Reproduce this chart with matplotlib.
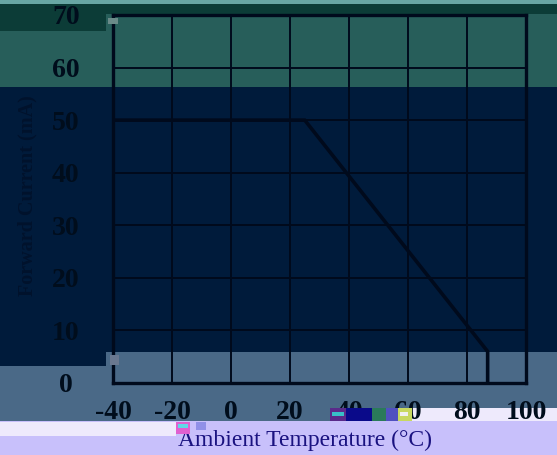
import numpy as np
import matplotlib
matplotlib.use('Agg')
import matplotlib.pyplot as plt
from matplotlib.patches import Rectangle

plt.rcParams['axes.unicode_minus'] = False

# derating curve
temp = [-40, 25, 87, 87]
current = [50, 50, 6, 0]
xticks = [-40, -20, 0, 20, 40, 60, 80, 100]
yticks = [0, 10, 20, 30, 40, 50, 60, 70]

W, H = 557, 455
fig = plt.figure(figsize=(W/100, H/100), dpi=100)
fig.patch.set_facecolor('#4a6987')

def rect(x0, y0, x1, y1, c, z=-10):
    # pixel coords from top-left
    r = Rectangle((x0/W, 1-y1/H), (x1-x0)/W, (y1-y0)/H, transform=fig.transFigure,
                  facecolor=c, edgecolor='none', zorder=z)
    fig.add_artist(r)

# background bands
rect(0, 0, W, 4, '#68a6a4')
rect(0, 4, W, 14, '#0c3c37')
rect(0, 14, W, 87, '#275e5a')
rect(0, 4, 106, 31, '#0c3c37')
rect(0, 87, W, 352, '#001b3b')
rect(0, 352, 106, 366, '#001b3b')
rect(332, 408, W, 421, '#eeeafc')
rect(0, 421, W, H, '#c8c0fb')
rect(0, 422, 176, 436, '#eeeafc')

ink = '#000a1c'
ax = fig.add_axes([113/W, 1-383/H, (526-113)/W, (383-15)/H])
ax.patch.set_visible(False)
ax.plot(temp, current, color=ink, lw=2.6, solid_joinstyle='miter', zorder=3)
ax.set_xlim(-40, 100)
ax.set_ylim(0, 70)
ax.set_xticks(xticks)
ax.set_yticks(yticks)
ax.grid(True, color=ink, lw=1.4)
ax.tick_params(length=0, labelcolor='#000d1c')
for lab in ax.get_xticklabels() + ax.get_yticklabels():
    lab.set_fontfamily('Liberation Serif')
    lab.set_fontweight('bold')
    lab.set_fontsize(20)
for lab in ax.get_yticklabels():
    lab.set_horizontalalignment('center')
ax.tick_params(axis='y', pad=34)
ax.tick_params(axis='x', pad=12)
for s in ax.spines.values():
    s.set_color(ink)
    s.set_linewidth(2.4)

fig.text(305/W, 1-440/H, 'Ambient Temperature (°C)', ha='center', va='center',
         fontsize=17, family='Liberation Serif', color='#1a1280')
fig.text(27/W, 1-196/H, 'Forward Current (mA)', ha='center', va='center',
         rotation=90, fontsize=14.5, family='Liberation Serif', fontweight='bold', color='#00122c')

# glitch blocks
rect(330, 408, 346, 421, '#5a2a8a', 10)
rect(332, 412, 344, 416, '#38c0c8', 10)
rect(346, 408, 372, 421, '#0a0a8a', 10)
rect(372, 408, 386, 421, '#2a7a5a', 10)
rect(386, 408, 398, 421, '#5050c0', 10)
rect(398, 408, 412, 421, '#c8d860', 10)
rect(400, 412, 408, 416, '#f0f0f0', 10)
rect(176, 422, 190, 434, '#e060d0', 10)
rect(178, 424, 188, 428, '#60d8e8', 10)
rect(196, 422, 206, 430, '#9090e8', 10)
rect(110, 355, 119, 365, '#6a7890', 10)
rect(108, 18, 118, 24, '#6a8a88', 10)

fig.savefig('out.png', dpi=100)
